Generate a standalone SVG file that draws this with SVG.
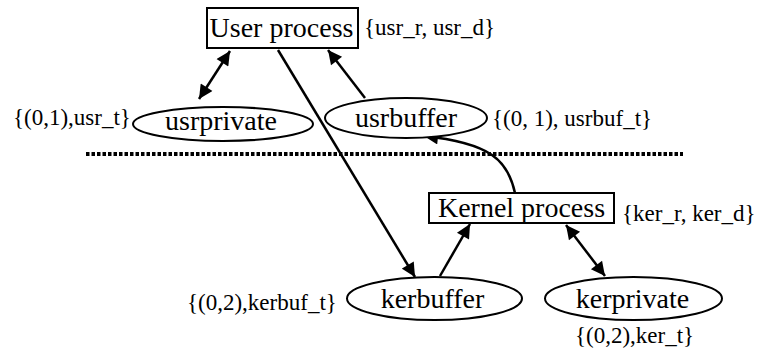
<svg xmlns="http://www.w3.org/2000/svg" width="760" height="351" viewBox="0 0 760 351">
<style>
.box{fill:#fff;stroke:#000;stroke-width:2}
.ell{fill:#fff;stroke:#000;stroke-width:2}
.nt{font-family:"Times New Roman",Times,"Liberation Serif",Tinos,"Nimbus Roman","FreeSerif","DejaVu Serif",serif;font-size:28px;fill:#000;text-anchor:middle}
.lb{font-family:"Times New Roman",Times,"Liberation Serif",Tinos,"Nimbus Roman","FreeSerif","DejaVu Serif",serif;font-size:23px;fill:#000}
.edge{fill:none;stroke:#000;stroke-width:2.5}
</style>
<defs>
<marker id="ah" viewBox="0 0 10 10" refX="10" refY="5" markerWidth="6.4" markerHeight="5.6" markerUnits="strokeWidth" orient="auto-start-reverse">
<path d="M0,0 L10,5 L0,10 z" fill="#000"/>
</marker>
</defs>
<line x1="86" y1="154" x2="683" y2="154" stroke="#000" stroke-width="4" stroke-dasharray="3.5,2"/>
<g id="connectors">
<line class="edge" x1="199" y1="99" x2="230" y2="51" marker-start="url(#ah)" marker-end="url(#ah)"/>
<line class="edge" x1="365" y1="98" x2="328" y2="50" marker-end="url(#ah)"/>
<line class="edge" x1="278" y1="50" x2="415" y2="277" marker-end="url(#ah)"/>
<line class="edge" x1="440" y1="276" x2="470" y2="224" marker-end="url(#ah)"/>
<line class="edge" x1="566" y1="225" x2="605" y2="276" marker-start="url(#ah)" marker-end="url(#ah)"/>
<path class="edge" d="M515,193 C508,160 490,143 424,136" marker-end="url(#ah)"/>
</g>
<g id="user_process">
<rect class="box" x="207" y="8" width="151" height="40"/>
<text class="nt" x="281.5" y="37">User process</text>
<text class="lb" x="364" y="35">{usr_r, usr_d}</text>
</g>
<g id="usrprivate">
<ellipse class="ell" cx="223" cy="124" rx="90" ry="17"/>
<text class="nt" x="221" y="130">usrprivate</text>
<text class="lb" x="13" y="125">{(0,1),usr_t}</text>
</g>
<g id="usrbuffer">
<ellipse class="ell" cx="406" cy="118" rx="81" ry="20"/>
<text class="nt" x="406" y="127">usrbuffer</text>
<text class="lb" x="492" y="126">{(0, 1), usrbuf_t}</text>
</g>
<g id="kernel_process">
<rect class="box" x="429" y="193" width="185" height="30"/>
<text class="nt" x="521.5" y="217">Kernel process</text>
<text class="lb" x="622" y="221">{ker_r, ker_d}</text>
</g>
<g id="kerbuffer">
<ellipse class="ell" cx="434.5" cy="298.5" rx="87.5" ry="21.5"/>
<text class="nt" x="432.5" y="308">kerbuffer</text>
<text class="lb" x="187" y="310">{(0,2),kerbuf_t}</text>
</g>
<g id="kerprivate">
<ellipse class="ell" cx="633.5" cy="298.5" rx="88.5" ry="21.5"/>
<text class="nt" x="632.5" y="308">kerprivate</text>
<text class="lb" x="575" y="343">{(0,2),ker_t}</text>
</g>
</svg>
